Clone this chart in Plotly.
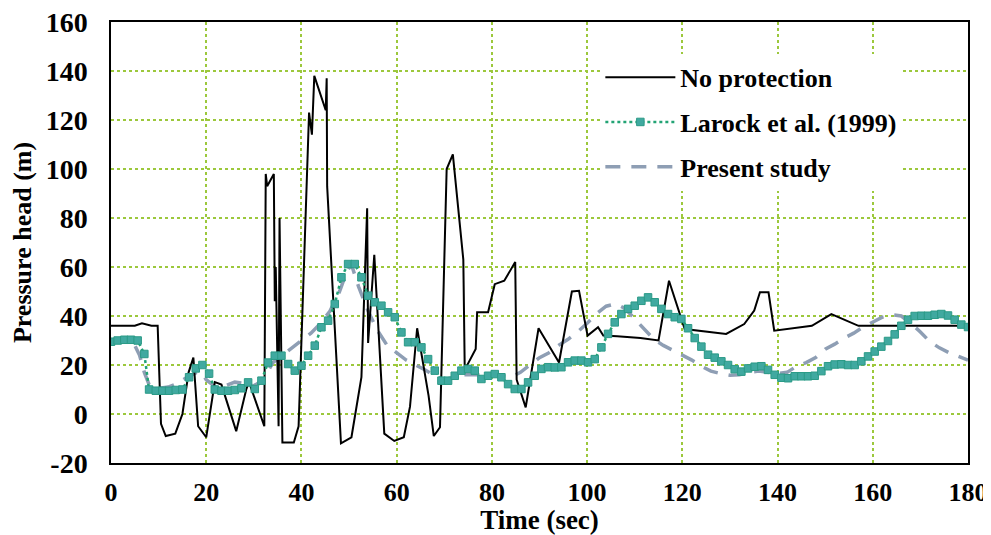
import plotly.graph_objects as go

# ---- data ----
t_np = [0, 5, 6.5, 8.5, 9.8, 10.5, 11.5, 13.5, 15, 16.3, 17.3, 18.3, 20, 21.8, 23.2, 26.3, 28.4, 29, 32.2, 32.5,
        32.8, 34.2, 34.4, 34.6, 35.2, 35.4, 36, 38.4, 39.4, 41.6, 42.2, 42.4, 42.7, 45.1, 45.3, 45.4, 48.3, 50.5,
        52.6, 53.8, 54, 55.3, 57.4, 59.5, 61.5, 62.8, 64.3, 66.7, 67.8, 69.1, 70.5, 71.8, 74, 74.3, 76.6, 76.9,
        79.2, 80.6, 82.6, 84.9, 85.2, 87.1, 89.8, 94.1, 96.8, 98.3, 100.1, 102.3, 103.4, 106.3, 111.2, 115, 117.2,
        120.5, 129.2, 133, 135.1, 136.3, 138.1, 139.3, 143.7, 147.2, 151.3, 157, 180]
v_np = [36, 36, 37, 36, 36, -4, -9, -8, 0, 17, 23, -5, -9.5, 13, 12, -7, 10, 13, -5, 98,
        93, 98, 46, 60, -5, 80, -11.6, -11.6, -5, 123, 114, 124, 138, 124, 137, 93, -12, -9.5,
        15, 84, 29, 65, -8, -11, -9.5, 3, 35, 7.5, -9, -5.4, 100, 106, 63, 18, 26.5, 41.5,
        41.5, 53, 54.4, 62, 14, 2.7, 35, 21, 50, 50.3, 32, 35.4, 32, 31.7, 31, 30, 54.4,
        34.7, 32.7, 36.7, 42.2, 49.7, 49.7, 34, 35, 36, 40.8, 36, 36]

t_lr = [0, 1.4, 2.8, 4.2, 5.6, 7.0, 8.0, 9.4, 10.8, 12.2,
        13.6, 15.0, 16.4, 17.8, 19.2, 20.6, 21.8, 23.2, 24.6, 26.0,
        27.4, 28.8, 30.2, 31.6, 33.0, 34.4, 35.8, 37.2, 38.6, 40.0,
        41.4, 42.8, 44.2, 45.6, 47.0, 48.4, 49.8, 51.2, 52.6, 54.0,
        55.4, 56.8, 58.2, 59.6, 61.0, 62.4, 63.8, 65.2, 66.6, 68.0,
        69.4, 70.8, 72.2, 73.6, 75.0, 76.4, 77.8, 79.2, 80.6, 82.0,
        83.4, 84.8, 86.2, 87.6, 89.0, 90.4, 91.8, 93.2, 94.6, 96.0,
        97.4, 98.8, 100.2, 101.6, 103.0, 104.4, 105.8, 107.2, 108.6, 110.0,
        111.4, 112.8, 114.2, 115.6, 117.0, 118.4, 119.8, 121.2, 122.6, 124.0,
        125.4, 126.8, 128.2, 129.6, 131.0, 132.4, 133.8, 135.2, 136.6, 138.0,
        139.4, 140.8, 142.2, 143.6, 145.0, 146.4, 147.8, 149.2, 150.6, 152.0,
        153.4, 154.8, 156.2, 157.6, 159.0, 160.4, 161.8, 163.2, 164.6, 166.0,
        167.4, 168.8, 170.2, 171.6, 173.0, 174.4, 175.8, 177.2, 178.6, 180.0]
v_lr = [29.5, 30, 30.3, 30.3, 30, 24.5, 10, 9.5, 9.5, 9.5,
        9.8, 10, 15, 18.6, 20, 16.5, 10, 9.5, 9.5, 9.8,
        10.5, 12.9, 10.2, 13.6, 21, 23.8, 23.8, 20.4, 17.7, 19.7,
        23.8, 27.9, 35.4, 38.1, 44.9, 55.8, 61.2, 61.2, 55.8, 48.3,
        45.6, 44.2, 41.5, 39.5, 33.3, 29.3, 29.3, 27.2, 22.4, 17.7,
        13.6, 13.6, 15.6, 17.7, 18.4, 17.7, 14.3, 15.6, 16.3, 15,
        12.2, 10.2, 10.2, 12.9, 15.6, 18.4, 19.1, 19, 19.1, 21.1,
        21.8, 21.8, 21.1, 22.4, 27.2, 32.7, 37.4, 40.8, 42.9, 44.2,
        46.2, 47.6, 45.6, 42.9, 40.8, 39.5, 38.8, 35, 31, 27.5,
        24.2, 23, 21.5, 20, 18.3, 17.3, 18.6, 19.3, 19.5, 18,
        16, 14.8, 14.6, 15.4, 15.4, 15.4, 15.6, 17.5, 19.5, 20.2,
        20.3, 20, 20, 21.5, 23.5, 25.5, 27.5, 29.8, 32.5, 36,
        38.5, 40, 40.1, 40.1, 40.5, 40.8, 40.2, 38.5, 36.5, 35.5]

t_ps = [0, 2, 4, 5, 6, 7, 8,
        10, 12, 14, 16, 18, 19, 20, 22, 24, 26, 28, 30, 32, 34, 36, 38, 40, 42, 44, 46, 48,
        49.5, 50.5,
        52, 54, 56, 58, 60, 62, 64, 66, 68, 70, 72, 74, 76, 78, 80, 82, 84, 86, 88, 90,
        92, 94, 96, 98, 100, 102, 104, 106, 108, 110, 112, 114, 116, 118, 120, 122, 124, 126, 128, 130,
        132, 134, 136, 138, 140, 142, 144, 146, 148, 150, 152, 154, 156, 158, 160, 162, 164, 166, 168, 170,
        172, 174, 176, 178, 180]
v_ps = [30, 30, 29.5, 28, 24, 17, 12,
        10.5, 11, 12.5, 15, 17, 17, 14, 11, 11.5, 13, 12.5, 11.5, 14, 21, 24, 27, 30, 33, 37, 42, 50,
        58, 61,
        52, 42, 34, 28, 25, 22, 20, 18, 15.5, 14, 15, 16, 16, 16, 16, 15.5, 15, 17, 20, 23,
        25, 28, 30.5, 33.5, 37, 41, 44, 45, 43, 39, 35, 30.5, 28, 26, 24, 22, 19.5, 17.5, 16.5, 15.8,
        16, 17, 17.5, 17, 16.5, 17, 19.5, 21, 23, 26.5, 28.5, 31, 33, 35.5, 37.5, 39.5, 40.5, 40, 37, 33.5,
        29.5, 27, 25, 23.5, 22]

x_ticks = [0, 20, 40, 60, 80, 100, 120, 140, 160, 180]
y_ticks = [-20, 0, 20, 40, 60, 80, 100, 120, 140, 160]

FONT = "Times New Roman, Liberation Serif, DejaVu Serif, serif"

fig = go.Figure()

fig.add_trace(go.Scatter(
    x=t_ps, y=v_ps, mode="lines", name="<b>Present study</b>",
    line=dict(color="#8e9eb4", width=3.5, dash="15px,11px"),
    legendgroup="c", legendrank=3,
))
fig.add_trace(go.Scatter(
    x=t_np, y=v_np, mode="lines", name="<b>No protection</b>",
    line=dict(color="#000000", width=2),
    legendgroup="a", legendrank=1,
))
fig.add_trace(go.Scatter(
    x=t_lr, y=v_lr, mode="lines+markers", name="<b>Larock et al. (1999)</b>",
    line=dict(color="#22a374", width=2.5, dash="dot"),
    marker=dict(symbol="square", size=7.5, color="#40a9a0", line=dict(color="#2a9a86", width=1)),
    legendgroup="b", legendrank=2,
))

# the page body adds an 8px margin, so the figure is sized to fit the 991x535 window
fig.update_layout(
    width=983, height=527,
    margin=dict(l=103, r=23, t=14, b=72),
    plot_bgcolor="white", paper_bgcolor="white",
    font=dict(family=FONT, size=26, color="black"),
    showlegend=True,
    legend=dict(
        x=0.571, y=0.928, xanchor="left", yanchor="top",
        bgcolor="white", borderwidth=0,
        font=dict(family=FONT, size=26, color="black"),
        itemwidth=70, tracegroupgap=8,
    ),
    xaxis=dict(
        range=[0, 180], tickvals=x_ticks, ticktext=["<b>%d</b>" % v for v in x_ticks],
        showgrid=True, gridcolor="#9cc83c", gridwidth=2, griddash="dot",
        showline=True, linecolor="black", linewidth=1.5, mirror=True,
        ticks="", ticklabelstandoff=5, zeroline=False, automargin=False,
        ticklabeloverflow="allow",
        tickfont=dict(family=FONT, size=26),
        title=dict(text="<b>Time (sec)</b>", standoff=9,
                   font=dict(family=FONT, size=27)),
    ),
    yaxis=dict(
        range=[-20, 160], tickvals=y_ticks, ticktext=["<b>%d</b>" % v for v in y_ticks],
        showgrid=True, gridcolor="#9cc83c", gridwidth=2, griddash="dot",
        showline=True, linecolor="black", linewidth=1.5, mirror=True,
        ticks="", ticklabelstandoff=16, zeroline=False, automargin=False,
        ticklabeloverflow="allow",
        tickfont=dict(family=FONT, size=28),
        title=dict(text="<b>Pressure head (m)</b>", standoff=12,
                   font=dict(family=FONT, size=26)),
    ),
)

fig.write_html("out.html")
